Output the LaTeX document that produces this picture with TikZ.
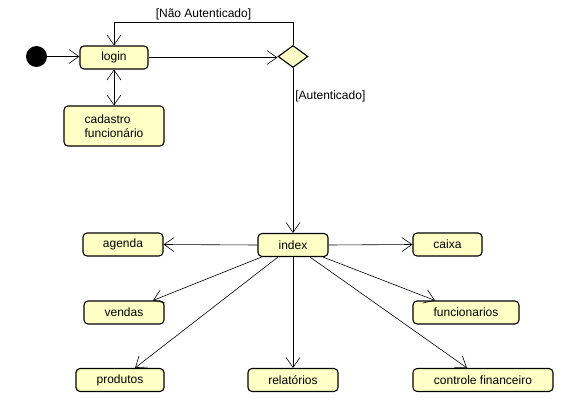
\documentclass[tikz,border=0pt]{standalone}
\usepackage{fontspec}
\setmainfont{Liberation Sans}
\usepackage{xcolor}
\usetikzlibrary{arrows.meta,shapes.geometric}
\definecolor{estado}{HTML}{FFFFC6}
\tikzset{
  acao/.style={draw=black, fill=estado, line width=1.1pt, rounded corners=4pt,
    minimum height=23pt, inner sep=2pt, font=\fontsize{12}{14.5}\selectfont},
  fluxo/.style={draw=black, line width=0.6pt, -{Straight Barb[length=10pt,width=14pt]}},
  guarda/.style={font=\fontsize{12}{14.5}\selectfont, inner sep=2pt}
}

\begin{document}
\begin{tikzpicture}[x=1pt, y=-1pt]
  \useasboundingbox (0,0) rectangle (566,420);

  \node[circle, fill=black, minimum size=21pt, inner sep=0pt] (inicio) at (36.5,56.5) {};
  \node[acao, minimum width=68pt] (login) at (114,57.5) {login};
  \node[acao, minimum width=100pt, minimum height=40pt, align=left] (cadastro) at (114,126) {cadastro\\funcion\'ario};
  \node[diamond, draw=black, fill=estado, line width=1.1pt, inner sep=0pt,
        minimum width=30pt, minimum height=22pt] (decisao) at (293,56.5) {};

  \node[acao, minimum width=70pt] (index) at (293,245) {index};
  \node[acao, minimum width=80pt] (agenda) at (123,244.5) {agenda};
  \node[acao, minimum width=69pt] (caixa) at (447.5,244.5) {caixa};
  \node[acao, minimum width=80pt] (vendas) at (124,312.5) {vendas};
  \node[acao, minimum width=106pt] (funcionarios) at (466,312.5) {funcionarios};
  \node[acao, minimum width=88pt] (produtos) at (120,380) {produtos};
  \node[acao, minimum width=90pt] (relatorios) at (293,380) {relat\'orios};
  \node[acao, minimum width=140pt] (controle) at (483,380) {controle financeiro};

  \coordinate (volta) at (decisao.north |- 0,22);

  \draw[fluxo] (inicio) -- (inicio -| login.west);
  \draw[fluxo, {Straight Barb[length=10pt,width=14pt]}-{Straight Barb[length=10pt,width=14pt]}] (login) -- (cadastro);
  \draw[fluxo] (login.east) -- (login.east -| decisao.west);
  \draw[fluxo] (decisao.north) -- (volta) -| node[guarda, above, pos=0.25] {[N\~ao Autenticado]} (login.north);
  \draw[fluxo] (decisao.south) -- node[guarda, anchor=west, pos=0.17] {[Autenticado]} (index.north);

  % saidas do index
  \draw[fluxo] (index.west) -- (agenda.east);
  \draw[fluxo] (index.east) -- (caixa.west);
  \draw[fluxo] ([xshift=4pt]index.south west) -- ([xshift=29pt]vendas.north);
  \draw[fluxo] ([xshift=-15pt]index.south) -- ([xshift=15pt]produtos.north);
  \draw[fluxo] (index.south) -- (relatorios.north);
  \draw[fluxo] ([xshift=17pt]index.south) -- ([xshift=-16pt]controle.north);
  \draw[fluxo] ([xshift=30pt]index.south) -- ([xshift=-31pt]funcionarios.north);
\end{tikzpicture}
\end{document}
